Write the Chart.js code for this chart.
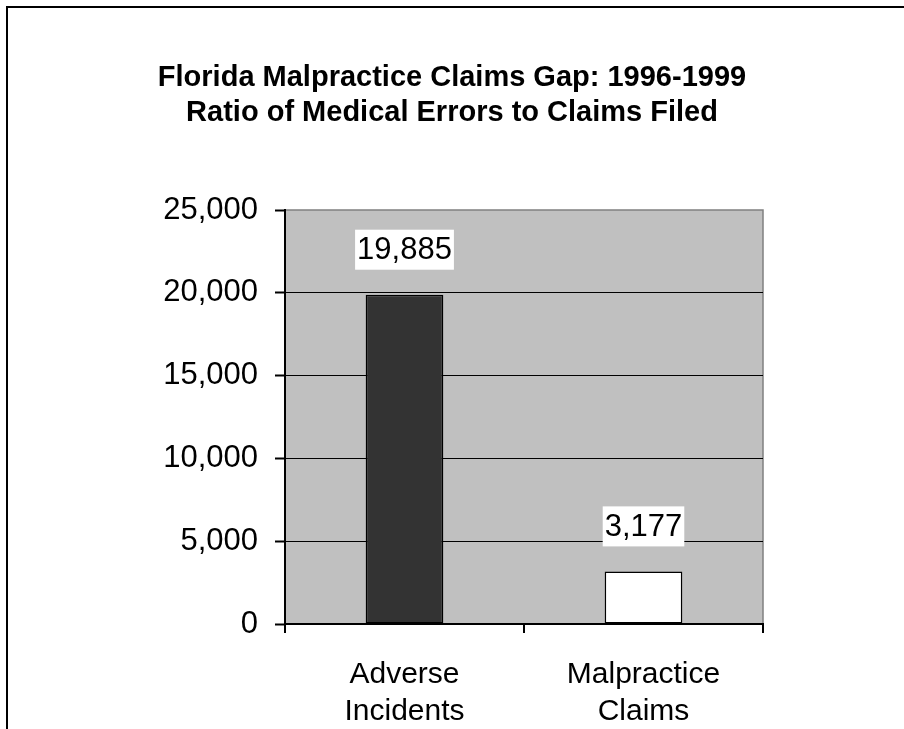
<!DOCTYPE html>
<html>
<head>
<meta charset="utf-8">
<title>Florida Malpractice Claims Gap</title>
<script src="https://cdn.jsdelivr.net/npm/chart.js@4/dist/chart.umd.min.js"></script>
<style>
  html, body { margin: 0; padding: 0; background: #fff; }
  #wrap { position: relative; width: 904px; height: 729px; }
</style>
</head>
<body>
<div id="wrap"><canvas id="chart" width="904" height="729"></canvas></div>
<script>
// ---- Data ----
const categories = [['Adverse', 'Incidents'], ['Malpractice', 'Claims']];
const claimValues = [19885, 3177];
const titleLines = ['Florida Malpractice Claims Gap: 1996-1999', 'Ratio of Medical Errors to Claims Filed'];
const yMin = 0;
const yMax = 25000;
const yStep = 5000;

// ---- Styles ----
const FONT = '"Liberation Sans", Arial, Helvetica, sans-serif';
const barFills = ['#333333', '#ffffff'];
const fmt = v => Number(v).toLocaleString('en-US');

Chart.defaults.color = '#000';
Chart.defaults.font.family = FONT;

// plot area fill + outer frame + title (title centred on the whole page)
const backdrop = {
  id: 'backdrop',
  beforeDraw(chart) {
    const { ctx, chartArea: a } = chart;
    ctx.save();
    ctx.fillStyle = '#000';
    ctx.fillRect(6, 6, 898, 2);
    ctx.fillRect(6, 6, 2, 723);

    ctx.font = 'bold 29px ' + FONT;
    ctx.textAlign = 'center';
    ctx.textBaseline = 'middle';
    titleLines.forEach((line, i) => ctx.fillText(line, 452, 78 + i * 35));

    ctx.fillStyle = '#c0c0c0';
    ctx.fillRect(a.left, a.top, a.right - a.left, a.bottom - a.top);
    ctx.strokeStyle = '#808080';
    ctx.lineWidth = 1.5;
    ctx.beginPath();
    ctx.moveTo(a.left, a.top);
    ctx.lineTo(a.right, a.top);
    ctx.lineTo(a.right, a.bottom);
    ctx.stroke();
    ctx.restore();
  }
};

// value labels on white boxes above bars
const valueLabels = {
  id: 'valueLabels',
  afterDatasetsDraw(chart) {
    const { ctx } = chart;
    const meta = chart.getDatasetMeta(0);
    ctx.save();
    ctx.font = '31px ' + FONT;
    ctx.textAlign = 'center';
    ctx.textBaseline = 'middle';
    meta.data.forEach((bar, i) => {
      const txt = fmt(chart.data.datasets[0].data[i]);
      const w = ctx.measureText(txt).width + 4;
      const bottom = bar.y - 25;
      ctx.fillStyle = '#fff';
      ctx.fillRect(bar.x - w / 2, bottom - 40, w, 40);
      ctx.fillStyle = '#000';
      ctx.fillText(txt, bar.x, bottom - 19);
    });
    ctx.restore();
  }
};

new Chart(document.getElementById('chart'), {
  type: 'bar',
  data: {
    labels: categories,
    datasets: [{
      data: claimValues,
      backgroundColor: barFills,
      borderColor: '#000',
      borderWidth: 1.5,
      borderSkipped: false,
      barPercentage: 0.325,
      categoryPercentage: 1
    }]
  },
  options: {
    responsive: false,
    animation: false,
    layout: { padding: { left: 0, right: 141, top: 210, bottom: 0 } },
    plugins: {
      legend: { display: false },
      tooltip: { enabled: false },
      title: { display: false }
    },
    scales: {
      x: {
        offset: true,
        border: { color: '#000', width: 2 },
        grid: { offset: true, drawOnChartArea: false, drawTicks: true, tickLength: 9, color: '#000', tickColor: '#000', lineWidth: 2 },
        ticks: { color: '#000', padding: 23, maxRotation: 0, font: { family: FONT, size: 30, lineHeight: 1.23 } },
        afterFit: s => { s.height = 105; }
      },
      y: {
        min: yMin,
        max: yMax,
        border: { color: '#000', width: 2 },
        grid: {
          color: c => (c.tick && c.tick.value === yMax) ? 'rgba(0,0,0,0)' : '#000',
          tickColor: '#000',
          lineWidth: 1,
          tickWidth: 2,
          tickLength: 10
        },
        ticks: {
          stepSize: yStep,
          color: '#000',
          padding: 17,
          font: { family: FONT, size: 31 },
          callback: v => fmt(v)
        },
        afterFit: s => { s.width = 285; }
      }
    }
  },
  plugins: [backdrop, valueLabels]
});
</script>
</body>
</html>
